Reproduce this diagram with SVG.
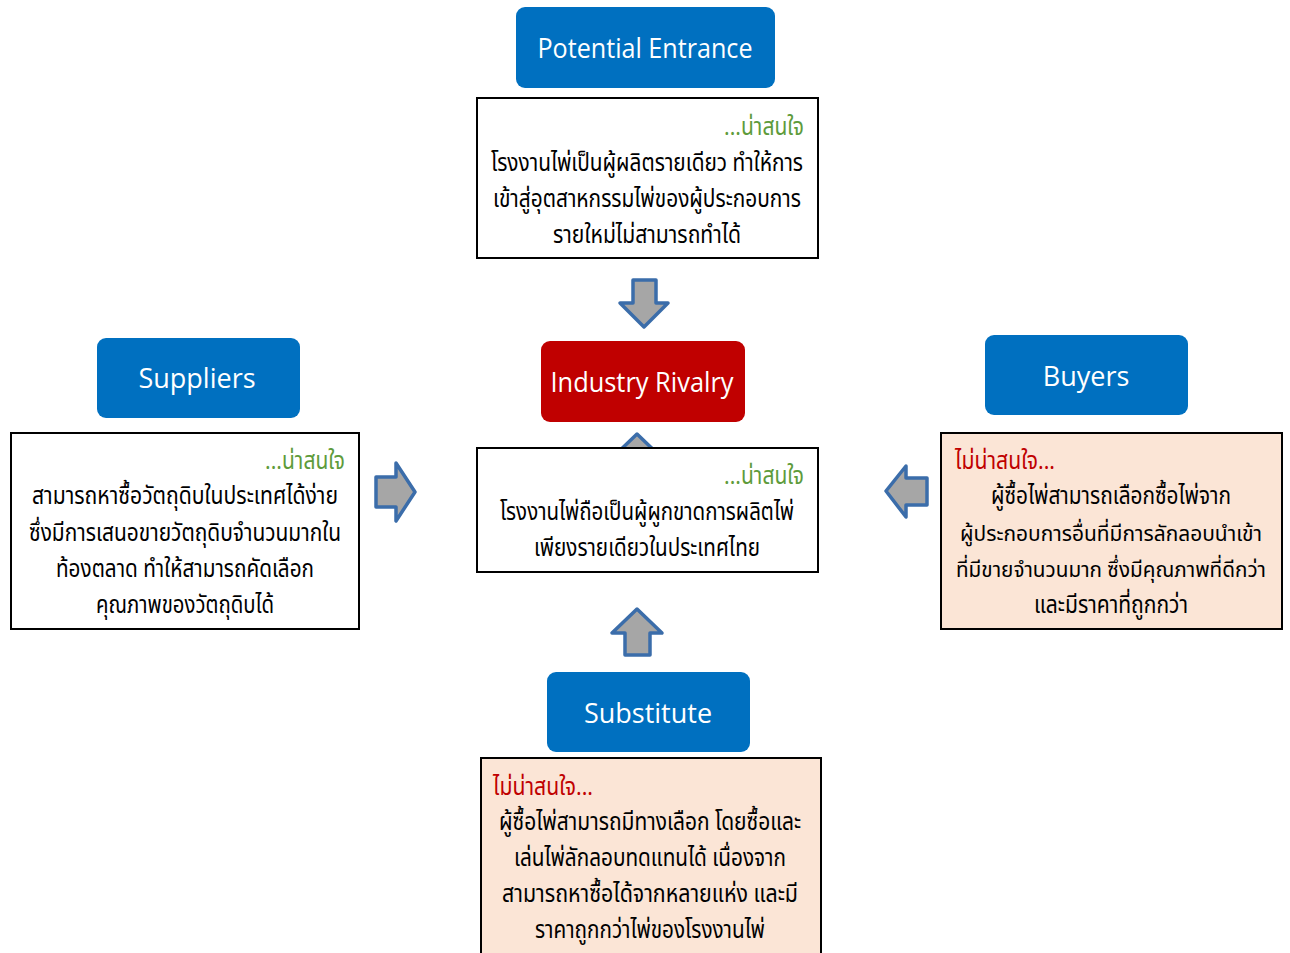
<svg xmlns="http://www.w3.org/2000/svg" width="1290" height="953" viewBox="0 0 1290 953">
<defs>
<style>
.hdr{fill:#0070C0}
.red{fill:#C00000}
.ht{font-family:"Open Sans","Noto Sans",sans-serif;font-size:27px;fill:#fff;text-anchor:middle}
.box{fill:#fff;stroke:#000;stroke-width:2}
.pbox{fill:#FBE5D6;stroke:#000;stroke-width:2}
.th{font-family:"Noto Sans Thai","Noto Sans","DejaVu Sans",sans-serif;font-size:24px;fill:#000;text-anchor:middle}
.sm{font-size:22px}
.g{font-family:"Noto Sans Thai","Noto Sans",sans-serif;font-size:24px;fill:#5E9B3B;text-anchor:end}
.r{font-family:"Noto Sans Thai","Noto Sans",sans-serif;font-size:24px;fill:#C00000;text-anchor:start}
.arr{fill:#A6A6A6;stroke:#3B6DAA;stroke-width:3.5;stroke-linejoin:round}
</style>
</defs>
<rect width="1290" height="953" fill="#fff"/>
<g id="connectors">
<path class="arr" d="M633,280 H656 V303 H668 L644,327 L620,303 H633 Z"/>
<path class="arr" d="M637,434 L662,458 H650 V470 H625 V458 H612 Z"/>
<path class="arr" d="M376,477 H396 V463 L415,492 L396,521 V507 H376 Z"/>
<path class="arr" d="M927,478 H906 V466 L886,491 L906,517 V505 H927 Z"/>
<path class="arr" d="M637,609 L662,633 H650 V655 H625 V633 H612 Z"/>
</g>
<g id="potential-entrance">
<rect class="hdr" x="516" y="7" width="259" height="81" rx="9"/>
<text class="ht" x="645" y="58" textLength="215" lengthAdjust="spacingAndGlyphs">Potential Entrance</text>
</g>
<g id="entrance-note">
<rect class="box" x="477" y="98" width="341" height="160"/>
<text class="g" x="804" y="135" textLength="80" lengthAdjust="spacingAndGlyphs">...น่าสนใจ</text>
<text class="th" x="647" y="171" textLength="312" lengthAdjust="spacingAndGlyphs">โรงงานไพ่เป็นผู้ผลิตรายเดียว ทำให้การ</text>
<text class="th" x="647" y="207" textLength="308" lengthAdjust="spacingAndGlyphs">เข้าสู่อุตสาหกรรมไพ่ของผู้ประกอบการ</text>
<text class="th" x="647" y="243" textLength="188" lengthAdjust="spacingAndGlyphs">รายใหม่ไม่สามารถทำได้</text>
</g>
<g id="suppliers">
<rect class="hdr" x="97" y="338" width="203" height="80" rx="9"/>
<text class="ht" x="197" y="388">Suppliers</text>
</g>
<g id="industry-rivalry">
<rect class="red" x="541" y="341" width="204" height="81" rx="9"/>
<text class="ht" x="642" y="392" textLength="183" lengthAdjust="spacingAndGlyphs">Industry Rivalry</text>
</g>
<g id="buyers">
<rect class="hdr" x="985" y="335" width="203" height="80" rx="9"/>
<text class="ht" x="1086" y="386">Buyers</text>
</g>
<g id="rivalry-note">
<rect class="box" x="477" y="448" width="341" height="124"/>
<text class="g" x="804" y="484" textLength="80" lengthAdjust="spacingAndGlyphs">...น่าสนใจ</text>
<text class="th" x="647" y="520" textLength="294" lengthAdjust="spacingAndGlyphs">โรงงานไพ่ถือเป็นผู้ผูกขาดการผลิตไพ่</text>
<text class="th" x="647" y="556" textLength="226" lengthAdjust="spacingAndGlyphs">เพียงรายเดียวในประเทศไทย</text>
</g>
<g id="suppliers-note">
<rect class="box" x="11" y="433" width="348" height="196"/>
<text class="g" x="345" y="469" textLength="80" lengthAdjust="spacingAndGlyphs">...น่าสนใจ</text>
<text class="th" x="185" y="504" textLength="306" lengthAdjust="spacingAndGlyphs">สามารถหาซื้อวัตถุดิบในประเทศได้ง่าย</text>
<text class="th" x="185" y="541" textLength="312" lengthAdjust="spacingAndGlyphs">ซึ่งมีการเสนอขายวัตถุดิบจำนวนมากใน</text>
<text class="th" x="185" y="577" textLength="258" lengthAdjust="spacingAndGlyphs">ท้องตลาด ทำให้สามารถคัดเลือก</text>
<text class="th" x="185" y="613" textLength="178" lengthAdjust="spacingAndGlyphs">คุณภาพของวัตถุดิบได้</text>
</g>
<g id="buyers-note">
<rect class="pbox" x="941" y="433" width="341" height="196"/>
<text class="r" x="955" y="469" textLength="100" lengthAdjust="spacingAndGlyphs">ไม่น่าสนใจ...</text>
<text class="th" x="1111" y="504" textLength="240" lengthAdjust="spacingAndGlyphs">ผู้ซื้อไพ่สามารถเลือกซื้อไพ่จาก</text>
<text class="th sm" x="1111" y="541" textLength="302" lengthAdjust="spacingAndGlyphs">ผู้ประกอบการอื่นที่มีการลักลอบนำเข้า</text>
<text class="th sm" x="1111" y="577" textLength="310" lengthAdjust="spacingAndGlyphs">ที่มีขายจำนวนมาก ซึ่งมีคุณภาพที่ดีกว่า</text>
<text class="th" x="1111" y="613" textLength="154" lengthAdjust="spacingAndGlyphs">และมีราคาที่ถูกกว่า</text>
</g>
<g id="substitute">
<rect class="hdr" x="547" y="672" width="203" height="80" rx="9"/>
<text class="ht" x="648" y="723">Substitute</text>
</g>
<g id="substitute-note">
<rect class="pbox" x="481" y="758" width="340" height="200"/>
<text class="r" x="493" y="795" textLength="100" lengthAdjust="spacingAndGlyphs">ไม่น่าสนใจ...</text>
<text class="th" x="650" y="830" textLength="302" lengthAdjust="spacingAndGlyphs">ผู้ซื้อไพ่สามารถมีทางเลือก โดยซื้อและ</text>
<text class="th" x="650" y="866" textLength="272" lengthAdjust="spacingAndGlyphs">เล่นไพ่ลักลอบทดแทนได้ เนื่องจาก</text>
<text class="th" x="650" y="902" textLength="296" lengthAdjust="spacingAndGlyphs">สามารถหาซื้อได้จากหลายแห่ง และมี</text>
<text class="th" x="650" y="938" textLength="230" lengthAdjust="spacingAndGlyphs">ราคาถูกกว่าไพ่ของโรงงานไพ่</text>
</g>
</svg>
